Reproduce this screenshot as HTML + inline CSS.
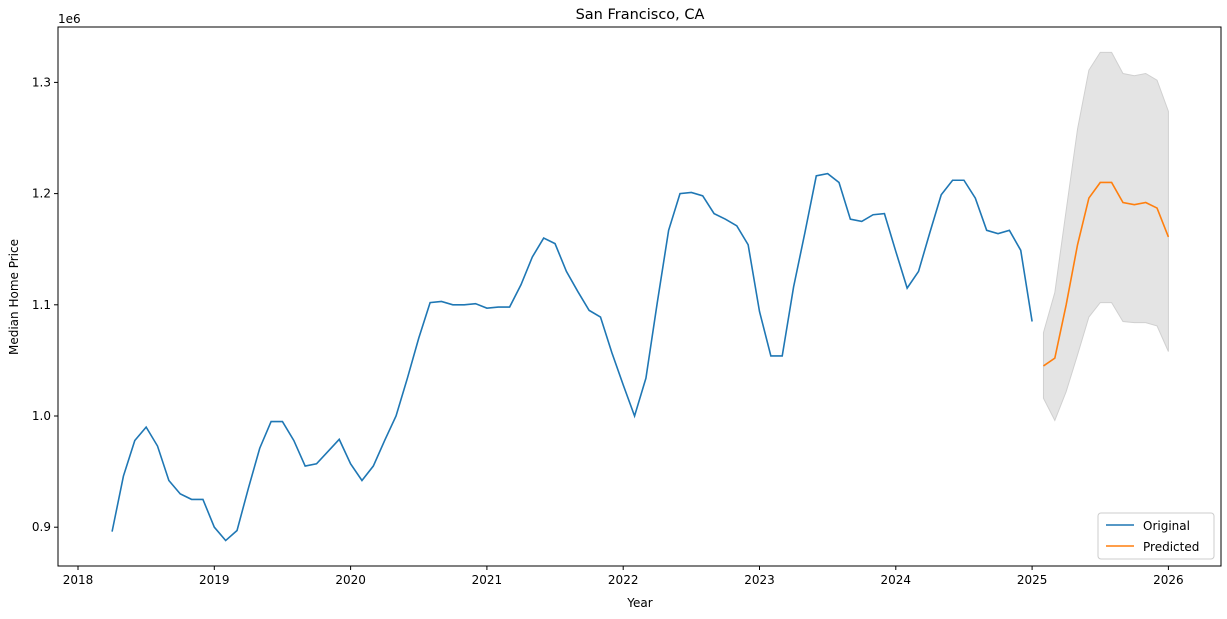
<!DOCTYPE html>
<html><head><meta charset="utf-8"><style>
body{margin:0;background:#fff;font-family:"Liberation Sans",sans-serif}
svg text{font-family:"DejaVu Sans","Liberation Sans",sans-serif;fill:#000}
</style></head><body>
<svg id="chart" width="1227" height="614" xmlns="http://www.w3.org/2000/svg"></svg>
<script>
const origStart = [2018, 4];
const origValues = [0.896,0.946,0.978,0.990,0.973,0.942,0.930,0.925,0.925,0.900,0.888,0.897,0.935,0.971,0.995,0.995,0.978,0.955,0.957,0.968,0.979,0.957,0.942,0.955,0.978,1.000,1.034,1.070,1.102,1.103,1.100,1.100,1.101,1.097,1.098,1.098,1.118,1.143,1.160,1.155,1.130,1.112,1.095,1.089,1.057,1.028,1.000,1.034,1.102,1.167,1.200,1.201,1.198,1.182,1.177,1.171,1.154,1.094,1.054,1.054,1.116,1.165,1.216,1.218,1.210,1.177,1.175,1.181,1.182,1.148,1.115,1.130,1.165,1.199,1.212,1.212,1.196,1.167,1.164,1.167,1.149,1.085];
const predStart = [2025, 2];
const predValues = [1.045,1.052,1.100,1.154,1.196,1.210,1.210,1.192,1.190,1.192,1.187,1.161];
const predUpper = [1.075,1.111,1.185,1.258,1.311,1.327,1.327,1.308,1.306,1.308,1.302,1.274];
const predLower = [1.016,0.996,1.022,1.055,1.089,1.102,1.102,1.085,1.084,1.084,1.081,1.058];
const xTicks = [2018,2019,2020,2021,2022,2023,2024,2025,2026];
const yTicks = [0.9,1.0,1.1,1.2,1.3];

const svg = document.getElementById('chart');
const NS = 'http://www.w3.org/2000/svg';
const L=58,R=1221,T=27,B=566;
const xs = y => 78 + (y-2018)*136.3;
const ys = v => 416 - (v-1.0)*1112;
const t = (s,i) => s[0] + (s[1]-1+i)/12;
function mk(tag, attrs, parent){const e=document.createElementNS(NS,tag);for(const k in attrs)e.setAttribute(k,attrs[k]);(parent||svg).appendChild(e);return e;}

let pts = predUpper.map((v,i)=>xs(t(predStart,i))+','+ys(v));
pts = pts.concat(predLower.map((v,i)=>xs(t(predStart,i))+','+ys(v)).reverse());
const band = mk('polygon',{points:pts.join(' '),fill:'#e4e4e4',stroke:'#d0d0d0','stroke-width':1});



const l1 = mk('polyline',{points:origValues.map((v,i)=>xs(t(origStart,i))+','+ys(v)).join(' '),fill:'none',stroke:'#1f77b4','stroke-width':1.6});


const l2 = mk('polyline',{points:predValues.map((v,i)=>xs(t(predStart,i))+','+ys(v)).join(' '),fill:'none',stroke:'#ff7f0e','stroke-width':1.6});



const frame = mk('rect',{x:L,y:T,width:R-L,height:B-T,fill:'none',stroke:'#000','stroke-width':1});



xTicks.forEach(y=>{
  const x=xs(y);
  mk('line',{x1:x,x2:x,y1:B,y2:B+4,stroke:'#000'});
  const tx=mk('text',{x:x,y:B+18,'text-anchor':'middle','font-size':12});
  tx.textContent=y;
  
  
});
yTicks.forEach(v=>{
  const y=ys(v);
  mk('line',{x1:L-4,x2:L,y1:y,y2:y,stroke:'#000'});
  const tx=mk('text',{x:L-7,y:y+4,'text-anchor':'end','font-size':12});
  tx.textContent=v.toFixed(1);
  
  
});
</script>
<svg style="position:absolute;left:0;top:0" width="1227" height="614" xmlns="http://www.w3.org/2000/svg">
<text x="640" y="19" text-anchor="middle" font-size="14.5">San Francisco, CA</text>
<text x="58" y="23" font-size="12">1e6</text>
<text x="640" y="607" text-anchor="middle" font-size="12">Year</text>
<text transform="translate(18,297) rotate(-90)" text-anchor="middle" font-size="12">Median Home Price</text>
<g>
<rect x="1098" y="513" width="116" height="46" rx="3" fill="#fff" stroke="#ccc"/>
<line x1="1106" x2="1134" y1="525" y2="525" stroke="#1f77b4" stroke-width="1.6"/>
<text x="1143" y="530" font-size="12">Original</text>
<line x1="1106" x2="1134" y1="546" y2="546" stroke="#ff7f0e" stroke-width="1.6"/>
<text x="1143" y="551" font-size="12">Predicted</text>
</g>
</svg>
</body></html>
